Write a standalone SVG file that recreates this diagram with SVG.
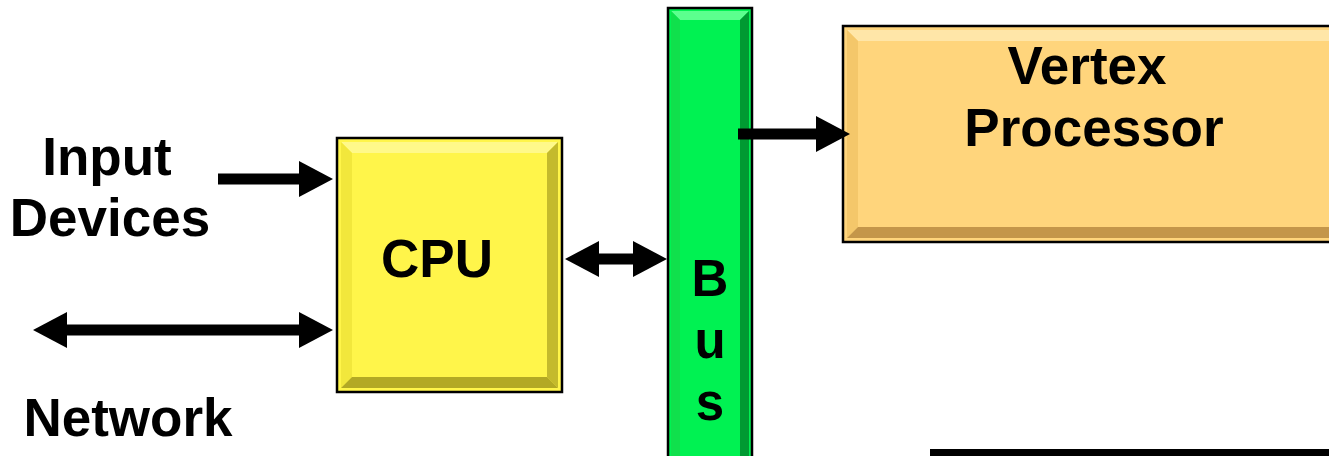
<svg xmlns="http://www.w3.org/2000/svg" width="1329" height="456" viewBox="0 0 1329 456">
  <style>
    .lbl { font-family: "Liberation Sans", Arial, sans-serif; font-weight: bold; font-size: 53px; fill: #000; }
    .bus-lbl { font-size: 51px; }
    .mid { text-anchor: middle; }
    .frame { stroke: #000; stroke-width: 2.5; }
    .link { stroke: #000; stroke-width: 11; fill: none; }
    .cpu { fill: #FFF54A; }
    .cpu-t { fill: #FFF98A; }
    .cpu-l { fill: #F2E73C; }
    .cpu-r { fill: #C4BA2C; }
    .cpu-b { fill: #B3A924; }
    .bus { fill: #00F252; }
    .bus-t { fill: #5CFF8E; }
    .bus-l { fill: #10E04C; }
    .bus-r { fill: #009A32; }
    .vtx { fill: #FFD57C; }
    .vtx-t { fill: #FFE6A8; }
    .vtx-l { fill: #F4C76A; }
    .vtx-b { fill: #C4964A; }
  </style>
  <defs>
    <!-- arrowhead: base sits on the line end, tip points outward -->
    <marker id="head" viewBox="0 0 34 36" refX="0" refY="18" markerWidth="34" markerHeight="36" markerUnits="userSpaceOnUse" orient="auto-start-reverse">
      <path d="M0,0 L34,18 L0,36 Z" fill="#000"/>
    </marker>
  </defs>

  <!-- free labels -->
  <g id="input-devices">
    <text class="lbl mid" x="107" y="175">Input</text>
    <text class="lbl mid" x="110" y="236">Devices</text>
  </g>
  <g id="network">
    <text class="lbl mid" x="128" y="436">Network</text>
  </g>

  <!-- CPU block with bevelled face -->
  <g id="cpu">
    <rect class="cpu frame" x="337" y="138" width="225" height="254"/>
    <polygon class="cpu-t" points="341,142 558,142 547,153 352,153"/>
    <polygon class="cpu-l" points="341,142 352,153 352,377 341,388"/>
    <polygon class="cpu-r" points="558,142 558,388 547,377 547,153"/>
    <polygon class="cpu-b" points="341,388 558,388 547,377 352,377"/>
    <text class="lbl mid" x="437" y="277">CPU</text>
  </g>

  <!-- system bus, runs off the bottom edge -->
  <g id="bus">
    <rect class="bus frame" x="668" y="8" width="84" height="470"/>
    <polygon class="bus-t" points="671,11 749,11 740,20 680,20"/>
    <polygon class="bus-l" points="671,11 680,20 680,470 671,470"/>
    <polygon class="bus-r" points="749,11 749,470 740,470 740,20"/>
    <text class="lbl bus-lbl mid" x="710" y="296">B</text>
    <text class="lbl bus-lbl mid" x="710" y="358">u</text>
    <text class="lbl bus-lbl mid" x="710" y="420">s</text>
  </g>

  <!-- vertex processor, runs off the right edge -->
  <g id="vertex-processor">
    <rect class="vtx frame" x="843" y="26" width="500" height="216"/>
    <polygon class="vtx-t" points="847,30 1340,30 1340,41 858,41"/>
    <polygon class="vtx-l" points="847,30 858,41 858,227 847,238"/>
    <polygon class="vtx-b" points="847,238 1340,238 1340,227 858,227"/>
    <text class="lbl mid" x="1087" y="84">Vertex</text>
    <text class="lbl mid" x="1094" y="146">Processor</text>
  </g>

  <!-- top edge of the next block below -->
  <g id="next-block">
    <rect x="930" y="449" width="420" height="20" fill="#000"/>
  </g>

  <g id="connectors">
    <line class="link" x1="218" y1="179" x2="299" y2="179" marker-end="url(#head)"/>
    <line class="link" x1="67" y1="330" x2="299" y2="330" marker-start="url(#head)" marker-end="url(#head)"/>
    <line class="link" x1="599" y1="259" x2="633" y2="259" marker-start="url(#head)" marker-end="url(#head)"/>
    <line class="link" x1="738" y1="134" x2="816" y2="134" marker-end="url(#head)"/>
  </g>
</svg>
